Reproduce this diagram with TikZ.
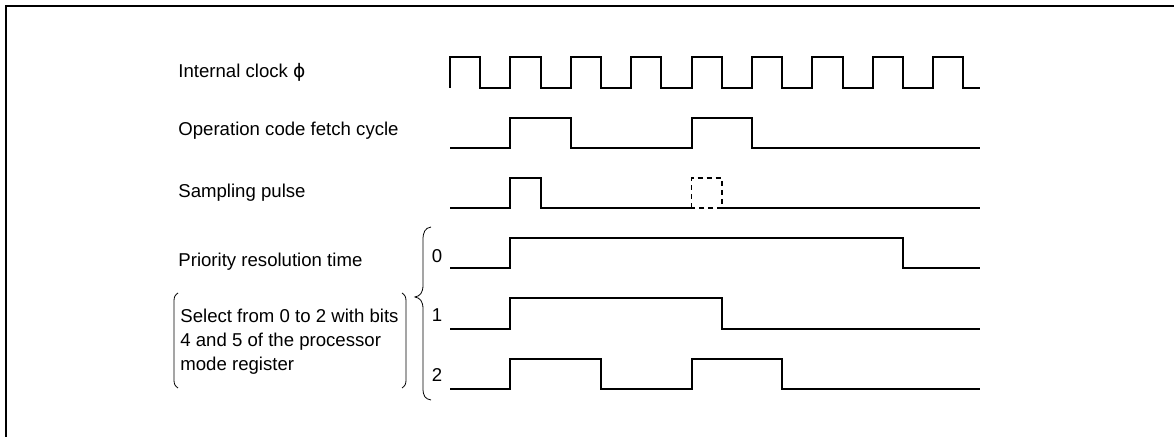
\documentclass[tikz,border=0pt]{standalone}
\usepackage{fontspec}
\setmainfont{Liberation Sans}
\newfontfamily\greekfont{DejaVu Sans}
\usepackage{tikz}
\usetikzlibrary{positioning}

\begin{document}
\begin{tikzpicture}[
	x=0.5pt, y=-0.5pt,
	font=\fontsize{9.3}{12}\selectfont
	]
\tikzset{
	label/.style = { anchor=west, inner sep=0pt },
	bitnum/.style = { inner sep=0pt },
	signal/.style = { line width=1pt, line join=miter },
	ghost/.style = { signal, line width=0.8pt, dash pattern=on 2.5pt off 2pt },
	frame/.style = { line width=1pt },
	brace/.style = { line width=0.4pt }
}
	\useasboundingbox (0,0) rectangle (1174,437);

	% frame
	\draw [frame] (6,437) -- (6,6) -- (1174,6);

	% labels
	\node (clockLbl) [label] at (178,72) {Internal clock {\greekfont ϕ}};
	\node (fetchLbl) [label] at (178,131) {Operation code fetch cycle};
	\node (sampleLbl) [label] at (178,193) {Sampling pulse};
	\node (prioLbl) [label] at (178,262) {Priority resolution time};
	\node (selectLbl) [label, align=left] at (180,342) {Select from 0 to 2 with bits\\4 and 5 of the processor\\mode register};

	\node (bitZero) [bitnum] at (437,256) {0};
	\node (bitOne) [bitnum] at (437,315) {1};
	\node (bitTwo) [bitnum] at (437,375) {2};

	% brackets
	\draw [brace] (178,293) .. controls (175,295) and (174,297) .. (174,301) -- (174,380) .. controls (174,384) and (175,386) .. (178,388);
	\draw [brace] (402,293) .. controls (405,295) and (406,297) .. (406,301) -- (406,380) .. controls (406,384) and (405,386) .. (402,388);
	\draw [brace] (431,227) .. controls (425,228) and (423,232) .. (423,240) -- (423,285)
		.. controls (423,293) and (420,296) .. (415,297)
		.. controls (420,298) and (423,301) .. (423,309) -- (423,388)
		.. controls (423,396) and (425,399) .. (431,400);

	% internal clock
	\draw [signal] (450,88) \foreach \k in {0,...,7} { -- ++(0,-31) -- ++(30.2,0) -- ++(0,31) -- ++(30.2,0) }
		-- ++(0,-31) -- ++(30.2,0) -- ++(0,31) -- (980,88);

	% operation code fetch cycle
	\draw [signal] (450,148) -- (510.4,148) -- (510.4,118) -- (570.8,118) -- (570.8,148) -- (691.6,148)
		-- (691.6,118) -- (752,118) -- (752,148) -- (980,148);

	% sampling pulse
	\draw [signal] (450,208) -- (510.4,208) -- (510.4,178) -- (540.6,178) -- (540.6,208) -- (691.6,208);
	\draw [ghost] (691.6,208) rectangle (721.8,178);
	\draw [signal] (721.8,208) -- (980,208);

	% priority resolution time
	\draw [signal] (450,268) -- (510.4,268) -- (510.4,238) -- (903,238) -- (903,268) -- (980,268);
	\draw [signal] (450,329) -- (510.4,329) -- (510.4,298.5) -- (721.8,298.5) -- (721.8,329) -- (980,329);
	\draw [signal] (450,389) -- (510.4,389) -- (510.4,359) -- (601,359) -- (601,389) -- (691.6,389)
		-- (691.6,359) -- (782.4,359) -- (782.4,389) -- (980,389);

\end{tikzpicture}
\end{document}
